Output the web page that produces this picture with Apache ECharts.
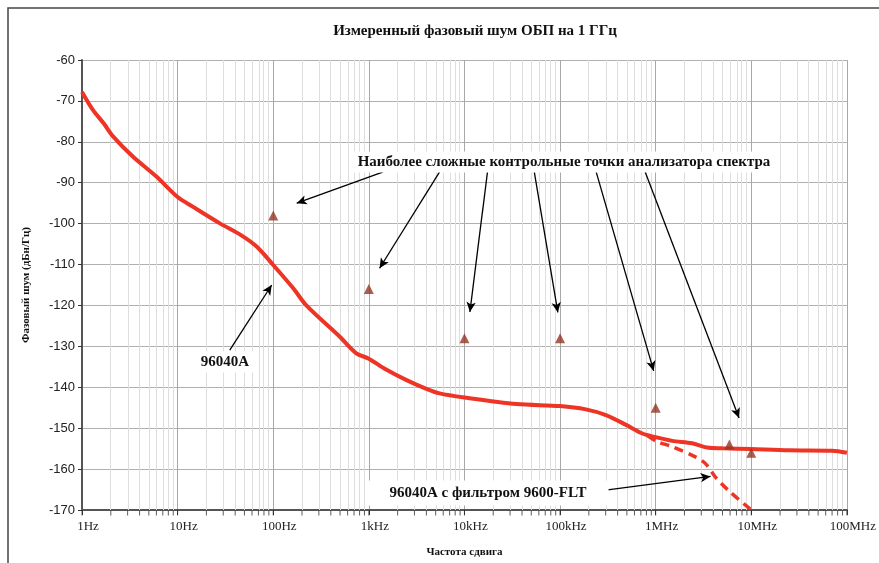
<!DOCTYPE html>
<html>
<head>
<meta charset="utf-8">
<script src="https://cdn.jsdelivr.net/npm/echarts@6/dist/echarts.min.js"></script>
<style>
  html, body { margin: 0; padding: 0; background: #fff; }
  #chart { width: 879px; height: 563px; }
</style>
</head>
<body>
<div id="chart"></div>
<script>
// подписи оси частот (по декадам)
var xTickLabels = ['1Hz', '10Hz', '100Hz', '1kHz', '10kHz', '100kHz', '1MHz', '10MHz', '100MHz'];

// 96040A, частота (Гц) и фазовый шум (дБн/Гц)
var mainFreq = [1, 1.3, 1.7, 2.1, 3.4, 6, 10, 14.5, 28, 46, 67, 100, 162, 222, 494, 740, 1000, 1500, 2450, 4000, 5500,
  10000, 35000, 100000, 186000, 302000, 490000, 727000, 1000000, 1490000, 2400000, 3600000, 5000000,
  10000000, 24700000, 70000000, 100000000];
var mainNoise = [-67.8, -72.2, -75.6, -78.6, -83.6, -88.5, -93.5, -95.9, -100, -102.8, -105.6, -110.1, -115.8, -120, -127.6, -131.7, -133, -135.6, -138.2, -140.4, -141.5,
  -142.5, -144.1, -144.6, -145.4, -146.8, -149.2, -151.3, -152.2, -153.1, -153.7, -154.8, -154.9,
  -155.1, -155.4, -155.5, -156];

// 96040A с фильтром 9600-FLT
var fltFreq = [820000, 1040000, 1490000, 2600000, 3300000, 4200000, 5700000, 10000000];
var fltNoise = [-151.8, -153.3, -154.5, -157, -158.6, -161.9, -165.1, -170];

// контрольные точки анализатора спектра
var specFreq = [100, 1000, 10000, 100000, 1000000, 5900000, 10000000];
var specNoise = [-98, -116, -128, -128, -145, -154, -156];

// стрелки: [частота начала, дБ начала, частота конца, дБ конца]
var arrows = [
  [1393, -87.4, 176, -95],
  [5480, -87.4, 1295, -110.9],
  [17400, -87.4, 11400, -121.6],
  [53800, -87.4, 94800, -121.7],
  [239000, -87.4, 953000, -136],
  [777000, -87.4, 7450000, -147.5],
  [35.1, -130.9, 96.4, -115],
  [228000, -165.5, 3750000, -161.8]
];

var lg = function (f) { return Math.log10(f); };
var toPts = function (fs, vs) { return fs.map(function (f, i) { return [lg(f), vs[i]]; }); };

// промежуточные линии сетки 2..9 в каждой декаде
var minorX = [];
for (var d = 0; d < 8; d++) {
  for (var m = 2; m <= 9; m++) minorX.push(lg(m * Math.pow(10, d)));
}
var allTicksX = minorX.slice();
for (var k = 0; k <= 8; k++) allTicksX.push(k);

var serif = '"Liberation Serif", "DejaVu Serif", serif';

var chart = echarts.init(document.getElementById('chart'));
chart.setOption({
  animation: false,
  grid: { left: 82, right: 31, top: 60, bottom: 53 },
  xAxis: {
    type: 'value',
    min: 0, max: 8, interval: 1,
    name: 'Частота сдвига',
    nameLocation: 'middle',
    nameGap: 37,
    nameTextStyle: { fontFamily: serif, fontWeight: 'bold', fontSize: 11, color: '#111' },
    axisLine: { show: true, onZero: false, lineStyle: { color: '#555', width: 2 } },
    axisTick: { show: true, length: 5, lineStyle: { color: '#333' } },
    axisLabel: {
      fontFamily: serif, fontSize: 13, color: '#222', margin: 10,
      padding: [0, 0, 0, 12],
      formatter: function (v) { return xTickLabels[Math.round(v)]; }
    },
    splitLine: { show: true, lineStyle: { color: '#a8a8a8', width: 1 } }
  },
  yAxis: {
    type: 'value',
    min: -170, max: -60, interval: 10,
    name: 'Фазовый шум (дБн/Гц)',
    nameLocation: 'middle',
    nameGap: 50,
    nameTextStyle: { fontFamily: serif, fontWeight: 'bold', fontSize: 11, color: '#111' },
    axisLine: { show: true, lineStyle: { color: '#555', width: 2 } },
    axisTick: { show: true, length: 4, lineStyle: { color: '#333' } },
    axisLabel: { fontFamily: '"Liberation Sans", Arial, sans-serif', fontSize: 13, color: '#222', margin: 7 },
    splitLine: { show: true, lineStyle: { color: '#b0b0b0', width: 1 } }
  },
  graphic: [
    { type: 'rect', silent: true, z: -10, shape: { x: 8, y: 8, width: 900, height: 600 },
      style: { fill: 'none', stroke: '#444', lineWidth: 1.5 } },
    { type: 'text', x: 475, y: 31, z: 100,
      style: { text: 'Измеренный фазовый шум ОБП на 1 ГГц', font: 'bold 15px ' + serif,
        fill: '#111', textAlign: 'center', textVerticalAlign: 'middle' } },
    { type: 'text', x: 564, y: 162, z: 100,
      style: { text: 'Наиболее сложные контрольные точки анализатора спектра', font: 'bold 15px ' + serif,
        fill: '#111', textAlign: 'center', textVerticalAlign: 'middle', backgroundColor: '#fff', padding: [3, 6] } },
    { type: 'text', x: 225, y: 362, z: 100,
      style: { text: '96040A', font: 'bold 15px ' + serif,
        fill: '#111', textAlign: 'center', textVerticalAlign: 'middle', backgroundColor: '#fff', padding: [3, 6] } },
    { type: 'text', x: 488, y: 493, z: 100,
      style: { text: '96040A с фильтром 9600-FLT', font: 'bold 15px ' + serif,
        fill: '#111', textAlign: 'center', textVerticalAlign: 'middle', backgroundColor: '#fff', padding: [5, 22] } }
  ],
  series: [
    {
      // сетка промежуточных частот
      type: 'line', data: [], silent: true, z: 1,
      markLine: {
        silent: true, symbol: ['none', 'none'], animation: false, z: 1,
        label: { show: false },
        lineStyle: { color: '#dedede', width: 1, type: 'solid' },
        data: minorX.map(function (x) { return { xAxis: x }; })
      }
    },
    {
      // засечки оси частот
      type: 'scatter', silent: true, clip: false, z: 5,
      symbol: 'rect', symbolSize: [1, 5], symbolOffset: [0, 3],
      itemStyle: { color: '#333' },
      data: allTicksX.map(function (x) { return [x, -170]; })
    },
    {
      name: '96040A с фильтром 9600-FLT',
      type: 'line', z: 3, showSymbol: false, smooth: 0.3,
      lineStyle: { color: '#ee3424', width: 3.5, type: [9, 6] },
      data: toPts(fltFreq, fltNoise)
    },
    {
      name: '96040A',
      type: 'line', z: 4, showSymbol: false, smooth: 0.3,
      lineStyle: { color: '#ee3424', width: 4 },
      data: toPts(mainFreq, mainNoise)
    },
    {
      name: 'Контрольные точки',
      type: 'scatter', z: 6,
      symbol: 'triangle', symbolSize: 10,
      itemStyle: { color: '#933624' },
      data: toPts(specFreq, specNoise)
    },
    {
      // стрелки-выноски
      type: 'line', data: [], silent: true, z: 7,
      markLine: {
        silent: true, animation: false, z: 8,
        symbol: ['none', 'arrow'], symbolSize: [7, 10],
        label: { show: false },
        lineStyle: { color: '#000', width: 1.3, type: 'solid' },
        data: arrows.map(function (a) {
          return [{ coord: [lg(a[0]), a[1]] }, { coord: [lg(a[2]), a[3]] }];
        })
      }
    }
  ]
});
</script>
</body>
</html>
